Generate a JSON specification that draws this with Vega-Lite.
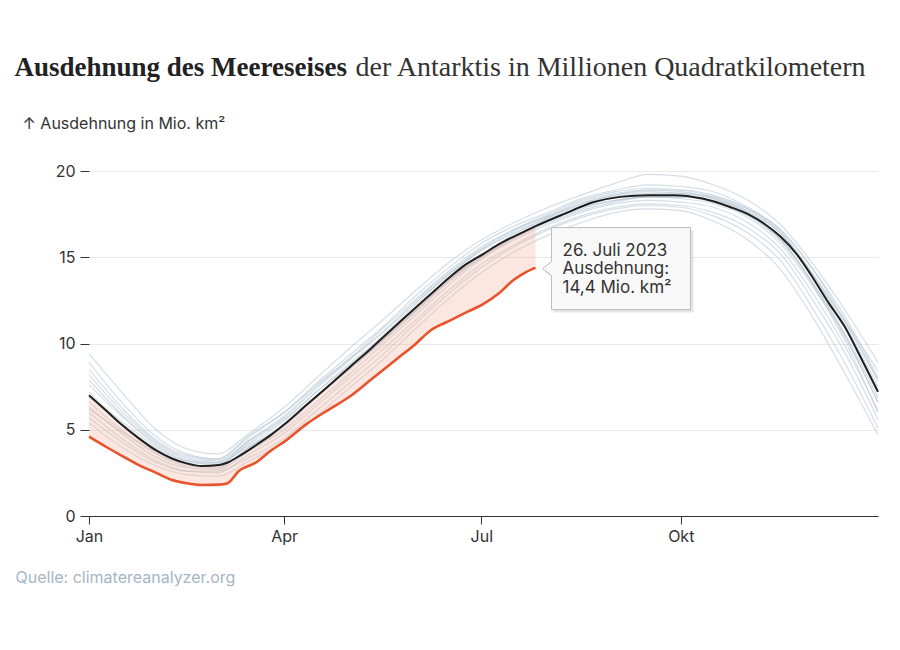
{
  "$schema": "https://vega.github.io/schema/vega-lite/v6.json",
  "autosize": "none",
  "width": 789,
  "height": 345,
  "padding": {"left": 89, "top": 171, "right": 22, "bottom": 134},
  "background": "white",
  "datasets": {
    "hist": [
      {"date": "2023-01-01", "h1": 9.4, "h2": 8.9, "h3": 8.2, "h4": 7.6, "h5": 7.2, "h6": 6.6, "h7": 6.3, "h8": 6.0, "h9": 5.7, "h10": 5.4, "h11": 7.9, "h12": 6.9, "h13": 8.5, "h14": 6.2},
      {"date": "2023-01-16", "h1": 7.2, "h2": 6.6, "h3": 6.1, "h4": 5.8, "h5": 5.4, "h6": 5.0, "h7": 4.8, "h8": 4.5, "h9": 4.3, "h10": 4.0, "h11": 5.9, "h12": 5.5, "h13": 6.3, "h14": 4.9},
      {"date": "2023-02-01", "h1": 5.0, "h2": 4.6, "h3": 4.3, "h4": 4.1, "h5": 3.9, "h6": 3.6, "h7": 3.4, "h8": 3.2, "h9": 3.1, "h10": 2.9, "h11": 4.2, "h12": 4.0, "h13": 4.4, "h14": 3.7},
      {"date": "2023-02-15", "h1": 3.9, "h2": 3.6, "h3": 3.4, "h4": 3.2, "h5": 3.1, "h6": 2.9, "h7": 2.8, "h8": 2.6, "h9": 2.6, "h10": 2.4, "h11": 3.3, "h12": 3.2, "h13": 3.5, "h14": 3.0},
      {"date": "2023-03-01", "h1": 3.6, "h2": 3.3, "h3": 3.2, "h4": 3.0, "h5": 3.0, "h6": 2.8, "h7": 2.7, "h8": 2.5, "h9": 2.6, "h10": 2.3, "h11": 3.1, "h12": 3.1, "h13": 3.3, "h14": 2.9},
      {"date": "2023-03-16", "h1": 4.8, "h2": 4.6, "h3": 4.4, "h4": 4.2, "h5": 4.3, "h6": 4.0, "h7": 3.8, "h8": 3.6, "h9": 3.4, "h10": 3.2, "h11": 4.4, "h12": 4.1, "h13": 4.7, "h14": 4.0},
      {"date": "2023-04-01", "h1": 6.3, "h2": 6.0, "h3": 5.7, "h4": 5.5, "h5": 5.6, "h6": 5.2, "h7": 5.0, "h8": 4.8, "h9": 4.5, "h10": 4.3, "h11": 5.8, "h12": 5.3, "h13": 6.0, "h14": 5.3},
      {"date": "2023-04-16", "h1": 8.0, "h2": 7.7, "h3": 7.4, "h4": 7.2, "h5": 7.2, "h6": 6.9, "h7": 6.6, "h8": 6.4, "h9": 6.1, "h10": 5.8, "h11": 7.5, "h12": 6.9, "h13": 7.6, "h14": 7.0},
      {"date": "2023-05-01", "h1": 9.7, "h2": 9.3, "h3": 9.0, "h4": 8.8, "h5": 8.7, "h6": 8.5, "h7": 8.2, "h8": 8.0, "h9": 7.7, "h10": 7.4, "h11": 9.1, "h12": 8.5, "h13": 9.1, "h14": 8.5},
      {"date": "2023-05-16", "h1": 11.3, "h2": 10.9, "h3": 10.6, "h4": 10.4, "h5": 10.3, "h6": 10.1, "h7": 9.9, "h8": 9.6, "h9": 9.3, "h10": 9.0, "h11": 10.8, "h12": 10.2, "h13": 10.6, "h14": 10.1},
      {"date": "2023-06-01", "h1": 13.1, "h2": 12.8, "h3": 12.5, "h4": 12.3, "h5": 12.1, "h6": 11.9, "h7": 11.7, "h8": 11.4, "h9": 11.2, "h10": 10.9, "h11": 12.6, "h12": 12.0, "h13": 12.4, "h14": 11.9},
      {"date": "2023-06-16", "h1": 14.7, "h2": 14.4, "h3": 14.1, "h4": 14.0, "h5": 13.7, "h6": 13.6, "h7": 13.4, "h8": 13.1, "h9": 12.9, "h10": 12.6, "h11": 14.2, "h12": 13.7, "h13": 14.0, "h14": 13.6},
      {"date": "2023-07-01", "h1": 16.0, "h2": 15.8, "h3": 15.5, "h4": 15.4, "h5": 15.1, "h6": 15.0, "h7": 14.9, "h8": 14.6, "h9": 14.4, "h10": 14.1, "h11": 15.6, "h12": 15.1, "h13": 15.4, "h14": 15.0},
      {"date": "2023-07-16", "h1": 17.0, "h2": 16.8, "h3": 16.6, "h4": 16.4, "h5": 16.2, "h6": 16.1, "h7": 16.0, "h8": 15.7, "h9": 15.6, "h10": 15.3, "h11": 16.6, "h12": 16.3, "h13": 16.5, "h14": 16.1},
      {"date": "2023-08-01", "h1": 17.9, "h2": 17.6, "h3": 17.4, "h4": 17.3, "h5": 17.2, "h6": 17.0, "h7": 16.9, "h8": 16.7, "h9": 16.6, "h10": 16.3, "h11": 17.5, "h12": 17.3, "h13": 17.4, "h14": 17.1},
      {"date": "2023-08-16", "h1": 18.6, "h2": 18.4, "h3": 18.1, "h4": 18.0, "h5": 17.9, "h6": 17.7, "h7": 17.6, "h8": 17.4, "h9": 17.3, "h10": 17.0, "h11": 18.3, "h12": 18.1, "h13": 18.2, "h14": 17.8},
      {"date": "2023-09-01", "h1": 19.3, "h2": 18.9, "h3": 18.6, "h4": 18.5, "h5": 18.3, "h6": 18.2, "h7": 18.1, "h8": 17.9, "h9": 17.8, "h10": 17.6, "h11": 18.8, "h12": 18.6, "h13": 18.7, "h14": 18.3},
      {"date": "2023-09-16", "h1": 19.8, "h2": 19.2, "h3": 18.9, "h4": 18.7, "h5": 18.5, "h6": 18.5, "h7": 18.3, "h8": 18.1, "h9": 18.0, "h10": 17.8, "h11": 19.0, "h12": 18.8, "h13": 18.9, "h14": 18.5},
      {"date": "2023-10-01", "h1": 19.7, "h2": 19.1, "h3": 18.9, "h4": 18.7, "h5": 18.5, "h6": 18.4, "h7": 18.2, "h8": 18.0, "h9": 17.9, "h10": 17.7, "h11": 18.9, "h12": 18.7, "h13": 18.8, "h14": 18.5},
      {"date": "2023-10-16", "h1": 19.2, "h2": 18.8, "h3": 18.6, "h4": 18.4, "h5": 18.2, "h6": 18.1, "h7": 17.9, "h8": 17.6, "h9": 17.4, "h10": 17.1, "h11": 18.5, "h12": 18.5, "h13": 18.4, "h14": 18.3},
      {"date": "2023-11-01", "h1": 18.3, "h2": 17.9, "h3": 17.8, "h4": 17.7, "h5": 17.4, "h6": 17.3, "h7": 17.0, "h8": 16.7, "h9": 16.4, "h10": 16.0, "h11": 17.6, "h12": 17.8, "h13": 17.5, "h14": 17.6},
      {"date": "2023-11-16", "h1": 16.9, "h2": 16.6, "h3": 16.5, "h4": 16.4, "h5": 16.0, "h6": 15.8, "h7": 15.5, "h8": 15.2, "h9": 14.8, "h10": 14.3, "h11": 16.1, "h12": 16.6, "h13": 16.0, "h14": 16.4},
      {"date": "2023-12-01", "h1": 14.6, "h2": 14.3, "h3": 14.0, "h4": 13.9, "h5": 13.5, "h6": 13.3, "h7": 12.9, "h8": 12.5, "h9": 12.0, "h10": 11.5, "h11": 13.5, "h12": 14.3, "h13": 13.4, "h14": 14.0},
      {"date": "2023-12-16", "h1": 11.9, "h2": 11.3, "h3": 11.2, "h4": 11.0, "h5": 10.5, "h6": 10.3, "h7": 9.8, "h8": 9.4, "h9": 8.8, "h10": 8.2, "h11": 10.4, "h12": 11.5, "h13": 10.1, "h14": 11.2},
      {"date": "2023-12-31", "h1": 8.9, "h2": 8.4, "h3": 7.9, "h4": 7.5, "h5": 6.9, "h6": 6.6, "h7": 6.1, "h8": 5.6, "h9": 5.1, "h10": 4.7, "h11": 6.6, "h12": 8.0, "h13": 6.0, "h14": 7.8}
    ],
    "ice": [
      {"date": "2023-01-01", "mean": 7.0, "y2023": 4.6},
      {"date": "2023-01-09", "mean": 6.1, "y2023": 4.0},
      {"date": "2023-01-16", "mean": 5.3, "y2023": 3.5},
      {"date": "2023-01-24", "mean": 4.5, "y2023": 2.95},
      {"date": "2023-02-01", "mean": 3.8, "y2023": 2.5},
      {"date": "2023-02-08", "mean": 3.35, "y2023": 2.1},
      {"date": "2023-02-15", "mean": 3.05, "y2023": 1.9},
      {"date": "2023-02-22", "mean": 2.9, "y2023": 1.8},
      {"date": "2023-03-02", "mean": 2.95, "y2023": 1.82},
      {"date": "2023-03-06", "mean": 3.1, "y2023": 1.9},
      {"date": "2023-03-11", "mean": 3.45, "y2023": 2.6},
      {"date": "2023-03-19", "mean": 4.1, "y2023": 3.1},
      {"date": "2023-03-26", "mean": 4.7, "y2023": 3.8},
      {"date": "2023-04-01", "mean": 5.3, "y2023": 4.3},
      {"date": "2023-04-11", "mean": 6.4, "y2023": 5.3},
      {"date": "2023-04-22", "mean": 7.6, "y2023": 6.2},
      {"date": "2023-05-01", "mean": 8.6, "y2023": 6.9},
      {"date": "2023-05-11", "mean": 9.7, "y2023": 7.9},
      {"date": "2023-05-24", "mean": 11.2, "y2023": 9.2},
      {"date": "2023-05-31", "mean": 12.0, "y2023": 9.9},
      {"date": "2023-06-08", "mean": 12.9, "y2023": 10.8},
      {"date": "2023-06-16", "mean": 13.8, "y2023": 11.3},
      {"date": "2023-06-24", "mean": 14.6, "y2023": 11.8},
      {"date": "2023-07-02", "mean": 15.2, "y2023": 12.3},
      {"date": "2023-07-09", "mean": 15.75, "y2023": 12.9},
      {"date": "2023-07-16", "mean": 16.2, "y2023": 13.7},
      {"date": "2023-07-21", "mean": 16.5, "y2023": 14.1},
      {"date": "2023-07-26", "mean": 16.8, "y2023": 14.4},
      {"date": "2023-08-08", "mean": 17.5, "y2023": null},
      {"date": "2023-08-22", "mean": 18.2, "y2023": null},
      {"date": "2023-09-03", "mean": 18.5, "y2023": null},
      {"date": "2023-09-16", "mean": 18.6, "y2023": null},
      {"date": "2023-09-28", "mean": 18.6, "y2023": null},
      {"date": "2023-10-11", "mean": 18.4, "y2023": null},
      {"date": "2023-10-24", "mean": 17.9, "y2023": null},
      {"date": "2023-11-01", "mean": 17.5, "y2023": null},
      {"date": "2023-11-09", "mean": 16.9, "y2023": null},
      {"date": "2023-11-16", "mean": 16.2, "y2023": null},
      {"date": "2023-11-24", "mean": 15.1, "y2023": null},
      {"date": "2023-12-01", "mean": 13.8, "y2023": null},
      {"date": "2023-12-08", "mean": 12.4, "y2023": null},
      {"date": "2023-12-16", "mean": 10.9, "y2023": null},
      {"date": "2023-12-23", "mean": 9.2, "y2023": null},
      {"date": "2023-12-31", "mean": 7.2, "y2023": null}
    ],
    "callout": [
      {"date": "2023-07-26", "wert": 14.4}
    ]
  },
  "resolve": {"axis": {"x": "independent", "y": "independent"}},
  "layer": [
    {
      "data": {"name": "hist"},
      "transform": [
        {"fold": ["h1", "h2", "h3", "h4", "h5", "h6", "h7", "h8", "h9", "h10", "h11", "h12", "h13", "h14"], "as": ["jahr", "wert"]}
      ],
      "mark": {"type": "line", "color": "#b3c2d1", "opacity": 0.55, "strokeWidth": 1.2, "interpolate": "monotone"},
      "encoding": {
        "x": {
          "field": "date",
          "type": "temporal",
          "scale": {
            "type": "utc",
            "domain": [
              {"year": 2023, "month": 1, "date": 1, "utc": true},
              {"year": 2023, "month": 12, "date": 31, "utc": true}
            ]
          },
          "axis": {
            "title": "Quelle: climatereanalyzer.org",
            "titleAnchor": "start",
            "titleAlign": "left",
            "titleBaseline": "alphabetic",
            "titleX": -74,
            "titleY": 66,
            "titleColor": "#a6b5c5",
            "titleFontWeight": "normal",
            "titleFontSize": 16,
            "titleFont": "Inter",
            "values": [
              {"year": 2023, "month": 1, "date": 1, "utc": true},
              {"year": 2023, "month": 4, "date": 1, "utc": true},
              {"year": 2023, "month": 7, "date": 1, "utc": true},
              {"year": 2023, "month": 10, "date": 1, "utc": true}
            ],
            "labelExpr": "['Jan','Feb','Mär','Apr','Mai','Jun','Jul','Aug','Sep','Okt','Nov','Dez'][utcmonth(datum.value)]",
            "grid": false,
            "domain": true,
            "domainColor": "#333333",
            "domainWidth": 1.2,
            "ticks": true,
            "tickColor": "#333333",
            "tickSize": 8,
            "labelPadding": 4,
            "labelFont": "Inter",
            "labelFontSize": 16,
            "labelColor": "#333333",
            "labelFlush": false
          }
        },
        "y": {
          "field": "wert",
          "type": "quantitative",
          "scale": {"domain": [0, 20]},
          "axis": {
            "title": "↑ Ausdehnung in Mio. km²",
            "titleAngle": 0,
            "titleAlign": "left",
            "titleBaseline": "alphabetic",
            "titleX": -67,
            "titleY": -43,
            "titleFont": "Inter",
            "titleFontSize": 16,
            "titleFontWeight": "normal",
            "titleColor": "#333333",
            "values": [0, 5, 10, 15, 20],
            "domain": false,
            "grid": true,
            "gridColor": "#e9e9e9",
            "ticks": true,
            "tickColor": "#333333",
            "tickSize": 9,
            "labelPadding": 5,
            "labelFont": "Inter",
            "labelFontSize": 16,
            "labelColor": "#333333"
          }
        },
        "detail": {"field": "jahr", "type": "nominal"}
      }
    },
    {
      "data": {"name": "ice"},
      "transform": [{"filter": "datum.y2023 != null"}],
      "mark": {"type": "area", "color": "#f4b3a0", "opacity": 0.32, "interpolate": "monotone"},
      "encoding": {
        "x": {"field": "date", "type": "temporal", "axis": null},
        "y": {"field": "y2023", "type": "quantitative", "axis": null},
        "y2": {"field": "mean"}
      }
    },
    {
      "data": {"name": "ice"},
      "mark": {"type": "line", "color": "#1f1f1f", "strokeWidth": 2, "interpolate": "monotone"},
      "encoding": {
        "x": {
          "field": "date",
          "type": "temporal",
          "axis": {
            "orient": "top",
            "title": "Ausdehnung des Meereseises",
            "titleAlign": "left",
            "titleAnchor": "start",
            "titleBaseline": "alphabetic",
            "titleX": -75,
            "titleY": -96,
            "titleFont": "Liberation Serif",
            "titleFontSize": 27,
            "titleFontWeight": "bold",
            "titleColor": "#222222",
            "labels": false,
            "ticks": false,
            "domain": false,
            "grid": false
          }
        },
        "y": {"field": "mean", "type": "quantitative", "axis": null}
      }
    },
    {
      "data": {"name": "ice"},
      "transform": [{"filter": "datum.y2023 != null"}],
      "mark": {"type": "line", "color": "#e9532b", "strokeWidth": 2.6, "interpolate": "monotone"},
      "encoding": {
        "x": {"field": "date", "type": "temporal", "axis": null},
        "y": {
          "field": "y2023",
          "type": "quantitative",
          "axis": {
            "orient": "right",
            "title": "der Antarktis in Millionen Quadratkilometern",
            "titleAngle": 0,
            "titleAlign": "left",
            "titleBaseline": "alphabetic",
            "titleX": -523,
            "titleY": -96,
            "titleFont": "Liberation Serif",
            "titleFontSize": 28,
            "titleFontWeight": "normal",
            "titleColor": "#333333",
            "labels": false,
            "ticks": false,
            "domain": false,
            "grid": false
          }
        }
      }
    },
    {
      "data": {"name": "callout"},
      "mark": {
        "type": "point",
        "shape": "M9,4L18,-3L18,-37L158,-37L158,45L18,45L18,11Z",
        "size": 4,
        "filled": true,
        "fill": "#000000",
        "stroke": null,
        "opacity": 0.1
      },
      "encoding": {
        "x": {"field": "date", "type": "temporal", "axis": null},
        "y": {"field": "wert", "type": "quantitative", "axis": null}
      }
    },
    {
      "data": {"name": "callout"},
      "mark": {
        "type": "point",
        "shape": "M7,1L16,-6L16,-40L155,-40L155,42L16,42L16,8Z",
        "size": 4,
        "filled": true,
        "fill": "#f8f8f8",
        "stroke": "#bdbdbd",
        "strokeWidth": 1,
        "opacity": 1
      },
      "encoding": {
        "x": {"field": "date", "type": "temporal", "axis": null},
        "y": {"field": "wert", "type": "quantitative", "axis": null}
      }
    },
    {
      "data": {"name": "callout"},
      "mark": {
        "type": "text",
        "text": ["26. Juli 2023", "Ausdehnung:", "14,4 Mio. km²"],
        "align": "left",
        "baseline": "middle",
        "dx": 27,
        "dy": -17,
        "lineHeight": 18.5,
        "font": "Inter",
        "fontSize": 17,
        "color": "#333333"
      },
      "encoding": {
        "x": {"field": "date", "type": "temporal", "axis": null},
        "y": {"field": "wert", "type": "quantitative", "axis": null}
      }
    }
  ],
  "config": {
    "view": {"stroke": null},
    "font": "Inter"
  }
}
